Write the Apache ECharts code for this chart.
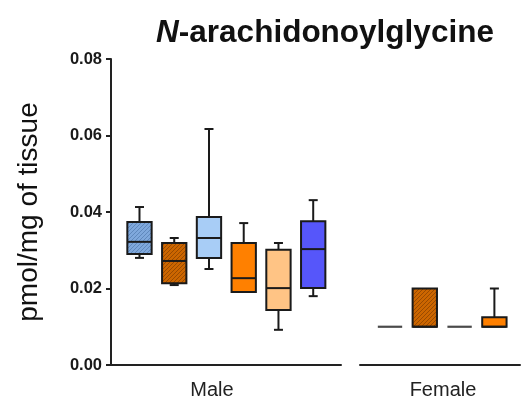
<!DOCTYPE html>
<html><head><meta charset="utf-8">
<script src="https://cdn.jsdelivr.net/npm/echarts@6/dist/echarts.min.js"></script>
<style>html,body{margin:0;padding:0;background:#fff}#c{width:522px;height:405px}</style>
</head><body><div id="c"></div>
<script>
// ---- data ----
const groups = ['Male', 'Female'];
const malePos = [1, 2, 3, 4, 5, 6];
const maleMin    = [0.0280, 0.0209, 0.0251, 0.0191, 0.0092, 0.0180];
const maleQ1     = [0.0290, 0.0214, 0.0280, 0.0191, 0.0144, 0.0201];
const maleMedian = [0.0322, 0.0272, 0.0332, 0.0227, 0.0201, 0.0303];
const maleQ3     = [0.0374, 0.0319, 0.0387, 0.0319, 0.0301, 0.0376];
const maleMax    = [0.0413, 0.0332, 0.0617, 0.0371, 0.0319, 0.0431];
const femalePos = [1, 2, 3, 4];
const femaleMin    = [0.010, 0.010, 0.010, 0.010];
const femaleQ1     = [0.010, 0.010, 0.010, 0.010];
const femaleMedian = [0.010, 0.010, 0.010, 0.010];
const femaleQ3     = [0.010, 0.020, 0.010, 0.0125];
const femaleMax    = [0.010, 0.020, 0.010, 0.020];
const yTicks = [0, 0.02, 0.04, 0.06, 0.08];
const yName = 'pmol/mg of tissue';

// ---- styles ----
function hatch(base, line) {
  const c = document.createElement('canvas');
  c.width = 4; c.height = 4;
  const g = c.getContext('2d');
  g.fillStyle = base; g.fillRect(0, 0, 4, 4);
  g.strokeStyle = line; g.lineWidth = 1;
  g.beginPath();
  g.moveTo(0, 4); g.lineTo(4, 0);
  g.moveTo(-1, 1); g.lineTo(1, -1);
  g.moveTo(3, 5); g.lineTo(5, 3);
  g.stroke();
  return { image: c, repeat: 'repeat' };
}
const maleFills = [hatch('#7fa8dc', '#5f88bc'), hatch('#cc6600', '#994a00'), '#a8cdf6', '#ff8000', '#ffc485', '#5656fa'];
const femaleFills = [null, hatch('#cc6600', '#994a00'), null, '#ff8000'];
const FONT = "'Liberation Sans', Arial, sans-serif";

function build(pos, mn, q1, md, q3, mx) {
  return pos.map((p, i) => [p, mn[i], q1[i], md[i], q3[i], mx[i]]);
}

function makeRender(fills) {
  return function (params, api) {
    const i = params.dataIndex;
    const x = api.value(0);
    const pMin = api.coord([x, api.value(1)]);
    const pQ1 = api.coord([x, api.value(2)]);
    const pMed = api.coord([x, api.value(3)]);
    const pQ3 = api.coord([x, api.value(4)]);
    const pMax = api.coord([x, api.value(5)]);
    const bw = api.size([1, 0])[0] * 0.7;
    const cx = pMed[0];
    const cap = 9;
    const ls = { stroke: '#1a1a1a', lineWidth: 2 };
    const ch = [];
    if (pMax[1] < pQ3[1] - 0.5) {
      ch.push({ type: 'line', shape: { x1: cx, y1: pQ3[1], x2: cx, y2: pMax[1] }, style: ls });
      ch.push({ type: 'line', shape: { x1: cx - cap / 2, y1: pMax[1], x2: cx + cap / 2, y2: pMax[1] }, style: ls });
    }
    if (pMin[1] > pQ1[1] + 0.5) {
      ch.push({ type: 'line', shape: { x1: cx, y1: pQ1[1], x2: cx, y2: pMin[1] }, style: ls });
      ch.push({ type: 'line', shape: { x1: cx - cap / 2, y1: pMin[1], x2: cx + cap / 2, y2: pMin[1] }, style: ls });
    }
    const fill = fills[i];
    const h = pQ1[1] - pQ3[1];
    if (h < 0.5) {
      ch.push({ type: 'line', shape: { x1: cx - bw / 2, y1: pQ1[1], x2: cx + bw / 2, y2: pQ1[1] }, style: { stroke: fill || '#4a4a4a', lineWidth: 2.2 } });
    } else {
      ch.push({ type: 'rect', shape: { x: cx - bw / 2, y: pQ3[1], width: bw, height: h }, style: { fill: fill, stroke: '#1a1a1a', lineWidth: 2 } });
      ch.push({ type: 'line', shape: { x1: cx - bw / 2, y1: pMed[1], x2: cx + bw / 2, y2: pMed[1] }, style: ls });
    }
    return { type: 'group', children: ch };
  };
}

const axisLine = { show: true, lineStyle: { color: '#222', width: 2 } };
const chart = echarts.init(document.getElementById('c'), null, { renderer: 'canvas' });
chart.setOption({
  animation: false,
  backgroundColor: '#fff',
  title: [
    { text: '{i|N}{b|-arachidonoylglycine}', left: 320, top: 12, textAlign: 'center',
      textStyle: { rich: {
        i: { fontFamily: FONT, fontSize: 31.5, fontWeight: 'bold', fontStyle: 'italic', color: '#111' },
        b: { fontFamily: FONT, fontSize: 31.5, fontWeight: 'bold', color: '#111' } } } },
    { text: groups[0], left: 207, top: 375, textAlign: 'center', textStyle: { fontFamily: FONT, fontSize: 20, fontWeight: 'normal', color: '#222' } },
    { text: groups[1], left: 438, top: 375, textAlign: 'center', textStyle: { fontFamily: FONT, fontSize: 20, fontWeight: 'normal', color: '#222' } }
  ],
  grid: [
    { left: 111, right: 181, top: 59, bottom: 40 },
    { left: 360, right: 2, top: 59, bottom: 40 }
  ],
  xAxis: [
    { gridIndex: 0, type: 'value', min: 0.18, max: 6.8, axisLine: axisLine, axisTick: { show: false }, axisLabel: { show: false }, splitLine: { show: false } },
    { gridIndex: 1, type: 'value', min: 0.138, max: 4.736, axisLine: axisLine, axisTick: { show: false }, axisLabel: { show: false }, splitLine: { show: false } }
  ],
  yAxis: [
    { gridIndex: 0, type: 'value', min: yTicks[0], max: yTicks[yTicks.length - 1], interval: yTicks[1] - yTicks[0],
      axisLine: axisLine, axisTick: { show: true, inside: false, length: 5, lineStyle: { color: '#222', width: 2 } },
      axisLabel: { fontFamily: FONT, fontSize: 16.5, fontWeight: 'bold', color: '#1a1a1a', margin: 9, formatter: v => v.toFixed(2) },
      splitLine: { show: false },
      name: yName, nameLocation: 'middle', nameGap: 68, nameRotate: 90,
      nameTextStyle: { fontFamily: FONT, fontSize: 28, color: '#111' } },
    { gridIndex: 1, type: 'value', min: yTicks[0], max: yTicks[yTicks.length - 1], show: false, splitLine: { show: false } }
  ],
  series: [
    { type: 'custom', xAxisIndex: 0, yAxisIndex: 0, encode: { x: 0, y: [1, 2, 3, 4, 5] },
      renderItem: makeRender(maleFills), data: build(malePos, maleMin, maleQ1, maleMedian, maleQ3, maleMax) },
    { type: 'custom', xAxisIndex: 1, yAxisIndex: 1, encode: { x: 0, y: [1, 2, 3, 4, 5] },
      renderItem: makeRender(femaleFills), data: build(femalePos, femaleMin, femaleQ1, femaleMedian, femaleQ3, femaleMax) }
  ]
});
</script>
</body></html>
